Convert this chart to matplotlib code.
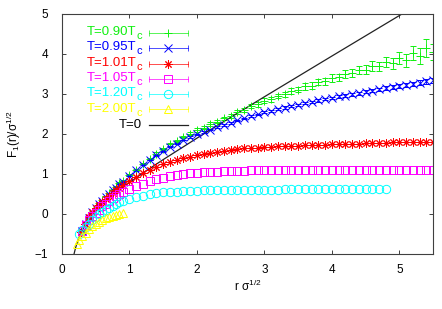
import numpy as np
import matplotlib
matplotlib.use("Agg")
import matplotlib.pyplot as plt

plt.rcParams['font.family'] = ['Liberation Sans', 'DejaVu Sans']
plt.rcParams['mathtext.default'] = 'regular'

# T = 0.90 Tc
r_090 = [0.30, 0.35, 0.40, 0.45, 0.50, 0.55, 0.60, 0.65, 0.70, 0.75, 0.80, 0.85, 0.90, 1.00,
         1.10, 1.20, 1.30, 1.40, 1.50, 1.60, 1.70, 1.80, 1.90, 2.00, 2.10, 2.20, 2.30, 2.40,
         2.50, 2.60, 2.70, 2.80, 2.90, 3.00, 3.10, 3.20, 3.30, 3.40, 3.50, 3.60, 3.70, 3.80,
         3.90, 4.00, 4.10, 4.20, 4.30, 4.40, 4.50, 4.60, 4.70, 4.80, 4.90, 5.00, 5.10, 5.20,
         5.30, 5.40, 5.50]
f_090 = [-0.40, -0.21, -0.08, 0.06, 0.16, 0.27, 0.35, 0.45, 0.52, 0.61, 0.68, 0.77, 0.83, 0.98,
         1.11, 1.26, 1.38, 1.51, 1.62, 1.74, 1.83, 1.93, 2.01, 2.10, 2.16, 2.25, 2.31, 2.39,
         2.45, 2.54, 2.60, 2.69, 2.74, 2.83, 2.87, 2.95, 2.99, 3.08, 3.11, 3.19, 3.21, 3.30,
         3.32, 3.40, 3.42, 3.50, 3.52, 3.60, 3.61, 3.70, 3.69, 3.80, 3.77, 3.90, 3.84, 4.02,
         3.95, 4.15, 4.05]
e_090 = [0.01, 0.01, 0.01, 0.01, 0.01, 0.01, 0.01, 0.01, 0.01, 0.01, 0.02, 0.02, 0.02, 0.02,
         0.02, 0.02, 0.02, 0.03, 0.03, 0.03, 0.03, 0.03, 0.03, 0.04, 0.04, 0.04, 0.04, 0.04,
         0.05, 0.05, 0.05, 0.05, 0.06, 0.06, 0.06, 0.06, 0.07, 0.07, 0.07, 0.08, 0.08, 0.08,
         0.09, 0.09, 0.09, 0.10, 0.10, 0.11, 0.11, 0.12, 0.12, 0.13, 0.14, 0.15, 0.16, 0.18,
         0.20, 0.22, 0.20]

# T = 0.95 Tc
r_095 = [0.30, 0.35, 0.40, 0.45, 0.50, 0.55, 0.60, 0.65, 0.70, 0.75, 0.80, 0.85, 0.90, 1.00,
         1.10, 1.20, 1.30, 1.40, 1.50, 1.60, 1.70, 1.80, 1.90, 2.00, 2.10, 2.20, 2.30, 2.40,
         2.50, 2.60, 2.70, 2.80, 2.90, 3.00, 3.10, 3.20, 3.30, 3.40, 3.50, 3.60, 3.70, 3.80,
         3.90, 4.00, 4.10, 4.20, 4.30, 4.40, 4.50, 4.60, 4.70, 4.80, 4.90, 5.00, 5.10, 5.20,
         5.30, 5.40, 5.50]
f_095 = [-0.42, -0.24, -0.10, 0.04, 0.14, 0.25, 0.33, 0.43, 0.50, 0.59, 0.66, 0.75, 0.81, 0.96,
         1.09, 1.23, 1.35, 1.47, 1.57, 1.68, 1.76, 1.85, 1.92, 1.99, 2.05, 2.11, 2.17, 2.23,
         2.28, 2.34, 2.39, 2.45, 2.49, 2.55, 2.58, 2.62, 2.66, 2.70, 2.73, 2.77, 2.80, 2.84,
         2.87, 2.90, 2.94, 2.96, 2.99, 3.02, 3.06, 3.08, 3.12, 3.14, 3.17, 3.20, 3.23, 3.26,
         3.28, 3.32, 3.34]
e_095 = [0.01, 0.01, 0.01, 0.01, 0.01, 0.01, 0.01, 0.01, 0.01, 0.01, 0.01, 0.01, 0.01, 0.01,
         0.01, 0.01, 0.01, 0.01, 0.01, 0.01, 0.01, 0.01, 0.02, 0.02, 0.02, 0.02, 0.02, 0.02,
         0.02, 0.02, 0.02, 0.02, 0.02, 0.02, 0.02, 0.03, 0.03, 0.03, 0.03, 0.03, 0.03, 0.03,
         0.03, 0.03, 0.03, 0.04, 0.04, 0.04, 0.04, 0.04, 0.04, 0.05, 0.05, 0.05, 0.05, 0.05,
         0.06, 0.06, 0.06]

# T = 1.01 Tc
r_101 = [0.28, 0.34, 0.40, 0.45, 0.50, 0.55, 0.60, 0.65, 0.70, 0.75, 0.80, 0.85, 0.90, 1.00,
         1.10, 1.20, 1.30, 1.40, 1.50, 1.60, 1.70, 1.80, 1.90, 2.00, 2.10, 2.20, 2.30, 2.40,
         2.50, 2.60, 2.70, 2.80, 2.90, 3.00, 3.10, 3.20, 3.30, 3.40, 3.50, 3.60, 3.70, 3.80,
         3.90, 4.00, 4.10, 4.20, 4.30, 4.40, 4.50, 4.60, 4.70, 4.80, 4.90, 5.00, 5.10, 5.20,
         5.30, 5.40, 5.50]
f_101 = [-0.45, -0.24, -0.08, 0.06, 0.15, 0.23, 0.30, 0.38, 0.45, 0.53, 0.59, 0.66, 0.72, 0.83,
         0.93, 1.02, 1.10, 1.17, 1.24, 1.30, 1.35, 1.39, 1.43, 1.47, 1.50, 1.53, 1.56, 1.58,
         1.60, 1.62, 1.64, 1.65, 1.66, 1.67, 1.68, 1.69, 1.70, 1.70, 1.71, 1.72, 1.72, 1.73,
         1.73, 1.74, 1.74, 1.75, 1.75, 1.76, 1.77, 1.77, 1.78, 1.78, 1.79, 1.79, 1.80, 1.80,
         1.80, 1.81, 1.81]

# T = 1.05 Tc
r_105 = [0.30, 0.35, 0.40, 0.45, 0.50, 0.55, 0.60, 0.65, 0.70, 0.75, 0.80, 0.85, 0.90, 1.00,
         1.10, 1.20, 1.30, 1.40, 1.50, 1.60, 1.70, 1.80, 1.90, 2.00, 2.10, 2.20, 2.30, 2.40,
         2.50, 2.60, 2.70, 2.80, 2.90, 3.00, 3.10, 3.20, 3.30, 3.40, 3.50, 3.60, 3.70, 3.80,
         3.90, 4.00, 4.10, 4.20, 4.30, 4.40, 4.50, 4.60, 4.70, 4.80, 4.90, 5.00, 5.10, 5.20,
         5.30, 5.40, 5.50]
f_105 = [-0.42, -0.28, -0.15, -0.06, 0.03, 0.11, 0.19, 0.26, 0.33, 0.39, 0.45, 0.50, 0.55, 0.63,
         0.70, 0.76, 0.82, 0.87, 0.91, 0.95, 0.98, 1.00, 1.02, 1.03, 1.04, 1.05, 1.06, 1.07,
         1.07, 1.08, 1.08, 1.09, 1.09, 1.09, 1.09, 1.10, 1.10, 1.10, 1.10, 1.10, 1.10, 1.10,
         1.10, 1.10, 1.10, 1.10, 1.10, 1.10, 1.10, 1.10, 1.10, 1.10, 1.10, 1.10, 1.10, 1.10,
         1.10, 1.10, 1.10]

# T = 1.20 Tc
r_120 = [0.25, 0.30, 0.35, 0.40, 0.45, 0.50, 0.55, 0.60, 0.65, 0.70, 0.75, 0.80, 0.85, 0.90,
         1.00, 1.10, 1.20, 1.30, 1.40, 1.50, 1.60, 1.70, 1.80, 1.90, 2.00, 2.10, 2.20, 2.30,
         2.40, 2.50, 2.60, 2.70, 2.80, 2.90, 3.00, 3.10, 3.20, 3.30, 3.40, 3.50, 3.60, 3.70,
         3.80, 3.90, 4.00, 4.10, 4.20, 4.30, 4.40, 4.50, 4.60, 4.70, 4.80]
f_120 = [-0.50, -0.40, -0.32, -0.25, -0.16, -0.08, -0.01, 0.06, 0.11, 0.16, 0.21, 0.25, 0.29, 0.32,
         0.38, 0.42, 0.46, 0.49, 0.52, 0.54, 0.55, 0.56, 0.57, 0.58, 0.58, 0.59, 0.59, 0.60,
         0.60, 0.60, 0.60, 0.61, 0.61, 0.61, 0.61, 0.61, 0.61, 0.62, 0.62, 0.62, 0.62, 0.62,
         0.62, 0.62, 0.62, 0.62, 0.62, 0.62, 0.62, 0.62, 0.62, 0.62, 0.62]

# T = 2.00 Tc
r_200 = [0.22, 0.25, 0.30, 0.35, 0.40, 0.45, 0.50, 0.55, 0.60, 0.65, 0.70, 0.75, 0.80, 0.85, 0.90]
f_200 = [-0.74, -0.66, -0.56, -0.47, -0.38, -0.31, -0.25, -0.19, -0.14, -0.10, -0.07, -0.04,
         -0.02, 0.00, 0.02]

# T = 0 curve
r_t0 = [0.18, 0.20, 0.22, 0.25, 0.30, 0.35, 0.40, 0.45, 0.50, 0.60, 0.70, 0.80, 0.90, 1.00,
        1.20, 1.50, 2.00, 2.50, 3.00, 4.00, 5.04, 5.20]
f_t0 = [-1.00, -0.865, -0.748, -0.602, -0.41, -0.259, -0.133, -0.023, 0.074, 0.245, 0.396,
        0.534, 0.663, 0.787, 1.023, 1.358, 1.894, 2.415, 2.929, 3.947, 5.00, 5.16]

series = [
    ('T=0.90T', r_090, f_090, e_090, '#10f010', '+'),
    ('T=0.95T', r_095, f_095, e_095, '#0000ff', 'x'),
    ('T=1.01T', r_101, f_101, None, '#ff0000', (8, 2, 0)),
    ('T=1.05T', r_105, f_105, None, '#ff00ff', 's'),
    ('T=1.20T', r_120, f_120, None, '#00ffff', 'o'),
    ('T=2.00T', r_200, f_200, None, '#ffff00', '^'),
]

fig = plt.figure(figsize=(4.42, 3.09), dpi=100)
ax = fig.add_axes([0.140, 0.178, 0.840, 0.777])

for label, r, f, e, col, mk in series:
    ax.errorbar(r, f, yerr=e, fmt='', marker=mk, linestyle='none',
                color=col, ms=6, mew=0.7, mfc='none', mec=col,
                elinewidth=0.6, capsize=2.2, capthick=0.6)

ax.plot(r_t0, f_t0, color='#222222', lw=0.9)

# gnuplot style key
x_txt, x0, x1 = 0.216, 0.2345, 0.3396
y_top, dy = 0.921, 0.0638
for i, (label, r, f, e, col, mk) in enumerate(series):
    y = y_top - i * dy
    ax.annotate(label, (x_txt, y), xycoords='axes fraction', xytext=(-4.2, 0.5),
                textcoords='offset points', color=col, fontsize=9.5,
                ha='right', va='center')
    ax.annotate('c', (x_txt, y), xycoords='axes fraction', xytext=(0, -2.3),
                textcoords='offset points', color=col, fontsize=8,
                ha='right', va='center')
    ax.plot([x0, x1], [y, y], color=col, lw=0.7, alpha=0.7, transform=ax.transAxes)
    ax.plot([x0, x1], [y, y], ls='none', marker='|', ms=4, mew=0.7, color=col,
            alpha=0.7, transform=ax.transAxes)
    ax.plot([(x0 + x1) / 2], [y], ls='none', marker=mk, ms=6, mew=0.7, color=col,
            mfc='none', mec=col, transform=ax.transAxes)
y = y_top - 6 * dy
ax.text(x_txt, y, 'T=0', color='black', fontsize=9.5, ha='right', va='center',
        transform=ax.transAxes)
ax.plot([x0, x1], [y, y], color='#222222', lw=0.9, transform=ax.transAxes)

ax.set_xlim(0, 5.5)
ax.set_ylim(-1, 5)
ax.set_xticks([0, 1, 2, 3, 4, 5])
ax.set_yticks([-1, 0, 1, 2, 3, 4, 5])
ax.tick_params(direction='in', length=3, width=0.7, colors='#404040', labelcolor='black',
               labelsize=8.5, top=True, right=True)
ax.tick_params(axis='y', pad=10)
ax.tick_params(axis='x', pad=7)
for s in ax.spines.values():
    s.set_color('#404040')
    s.set_linewidth(0.8)

ax.set_xlabel('r σ$^{1/2}$', fontsize=8.5, labelpad=2)
ax.set_ylabel('F$_1$(r)/σ$^{1/2}$', fontsize=8.5, labelpad=8)

fig.savefig('out.png', dpi=100)
